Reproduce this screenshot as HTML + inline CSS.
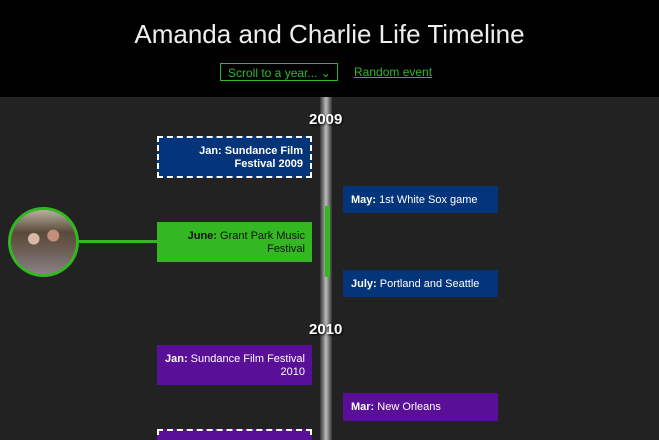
<!DOCTYPE html>
<html style="width:659px;height:440px;overflow:hidden"><head><style>
*{margin:0;padding:0;box-sizing:border-box}
body{width:659px;height:440px;overflow:hidden;background:#222;font-family:"Liberation Sans",Arial,sans-serif;position:relative}
.hdr{position:absolute;left:0;top:0;width:659px;height:97px;background:#000}
h1{position:absolute;top:19px;width:659px;text-align:center;color:#eee;font-size:26px;font-weight:normal}
.sel{position:absolute;left:220px;top:63px;width:118px;height:18px;border:1px solid #2eb82e;color:#2eb82e;font-size:12px;padding:2px 0 0 7px}
.lnk{position:absolute;left:354px;top:65px;color:#2eb82e;font-size:12px;text-decoration:underline}
.bar{position:absolute;left:320px;top:97px;width:12px;height:343px;background:linear-gradient(90deg,#333,#777 25%,#bbb 50%,#777 75%,#333)}
.grn{position:absolute;left:325px;top:206px;width:5px;height:71px;background:#33b822}
.yr{position:absolute;font-weight:bold;color:#fff;font-size:15px;text-shadow:1px 1px 2px #000}
.b{position:absolute;width:155px;font-size:11px;color:#fff;line-height:13px;padding:8px 7px 8px 6px;overflow:hidden}
.l{left:157px;text-align:right}
.r{left:343px;padding-left:8px}
.blue{background:#043479}.pur{background:#5a0f99}.gr{background:#33b822;color:#111}
.d{border:2px dashed #fff}
</style></head><body>
<div class="hdr"><h1>Amanda and Charlie Life Timeline</h1>
<div class="sel">Scroll to a year... ⌄</div><div class="lnk">Random event</div></div>
<div class="bar"></div><div class="grn"></div>
<div class="yr" style="left:309px;top:111px">2009</div>
<div class="yr" style="left:309px;top:321px">2010</div>
<div class="b l blue d" style="top:136px;height:42px;padding:7px 7px"><b>Jan: Sundance Film Festival 2009</b></div>
<div class="b r blue" style="top:186px;height:27px"><b>May:</b> 1st White Sox game</div>
<div class="b l gr" style="top:222px;height:40px;padding-top:8px"><b>June:</b> Grant Park Music Festival</div>
<div class="b r blue" style="top:270px;height:27px"><b>July:</b> Portland and Seattle</div>
<div class="b l pur" style="top:345px;height:40px"><b>Jan:</b> Sundance Film Festival 2010</div>
<div class="b r pur" style="top:393px;height:28px"><b>Mar:</b> New Orleans</div>
<div class="b l pur d" style="top:429px;height:11px;border-bottom:none"></div>
<div style="position:absolute;left:78px;top:240px;width:79px;height:3px;background:#33b822"></div>
<div style="position:absolute;left:8px;top:207px;width:71px;height:70px;border-radius:50%;border:3px solid #33b822;background:radial-gradient(circle at 35% 45%,#d8b8a8 0 10%,transparent 11%),radial-gradient(circle at 65% 40%,#c09078 0 10%,transparent 11%),linear-gradient(180deg,#b8b0a0 0%,#5a4a3a 35%,#6a5a50 60%,#8a8088 100%)"></div>
</body></html>
